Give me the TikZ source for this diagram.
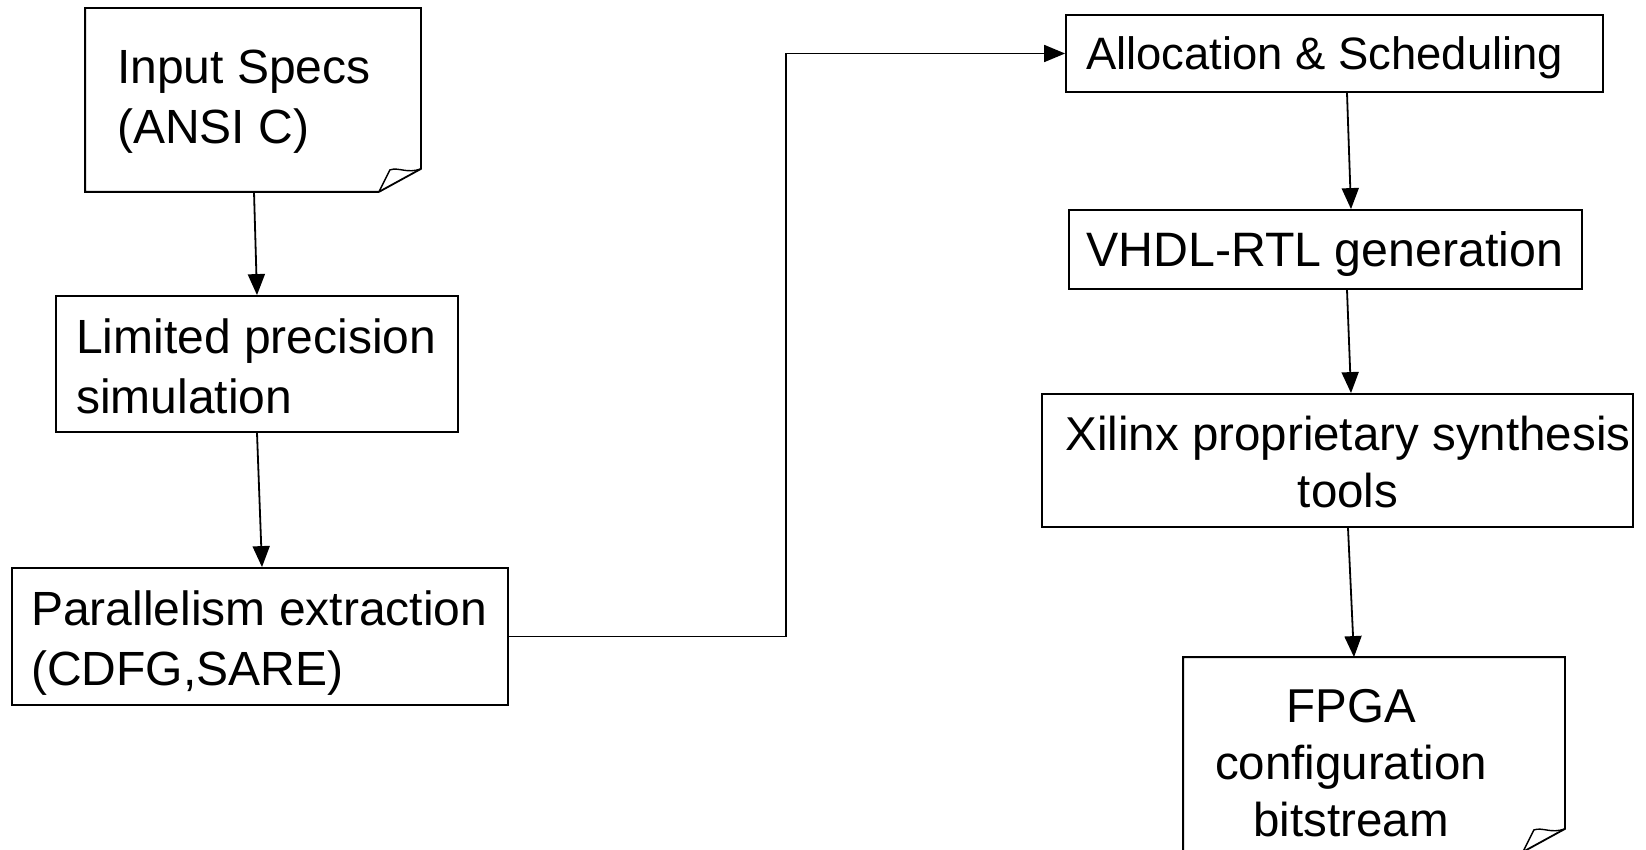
\documentclass[tikz,border=0pt]{standalone}
\usepackage{fontspec}
\setmainfont{Liberation Sans}
\usetikzlibrary{arrows.meta,calc}
\tikzset{
  box/.style={draw, line width=1.8pt, minimum width=#1, inner sep=0pt},
  plainbox/.style={line width=1.8pt, inner sep=0pt},
  txt/.style={inner sep=0pt, align=left, font=\fontsize{48}{60}\selectfont},
  ctxt/.style={inner sep=0pt, align=center, font=\fontsize{47.5}{57}\selectfont},
  arr/.style={line width=1.8pt, -{Triangle[length=21pt,width=17pt]}},
  foldline/.style={line width=1.8pt, line join=miter}
}
\begin{document}
\begin{tikzpicture}[x=1pt,y=-1pt]
\useasboundingbox (0,0) rectangle (1646,850);
% Input Specs (note shape)
\node[plainbox, minimum width=334pt, minimum height=182pt] (in) at (253,100) {};
\draw[foldline] ([xshift=-42pt]in.south east) -- (in.south west) -- (in.north west) -- (in.north east) -- ([yshift=23pt]in.south east) -- ([xshift=-42pt]in.south east);
\draw[line width=1.4pt] ([xshift=-42pt]in.south east) -- ([xshift=-31pt,yshift=22pt]in.south east)
  .. controls ([xshift=-22pt,yshift=25pt]in.south east) and ([xshift=-14pt,yshift=18pt]in.south east) .. ([yshift=23pt]in.south east);
\node[txt, anchor=west] (in-t) at (117,102) {Input Specs\\(ANSI C)};
% Limited precision
\node[box=402pt, minimum height=136pt] (lim) at (257,364) {};
\node[txt, anchor=west] (lim-t) at (76,366) {Limited precision\\simulation};
% Parallelism
\node[box=496pt, minimum height=137pt] (par) at (260,636.5) {};
\node[txt, anchor=west] (par-t) at (31,643) {Parallelism extraction\\(CDFG,SARE)};
% Allocation
\node[box=537pt, minimum height=77pt] (alloc) at (1334.5,53.5) {};
\node[txt, anchor=west, font=\fontsize{45.4}{60}\selectfont] (alloc-t) at (1086,58) {Allocation \& Scheduling};
% VHDL
\node[box=513pt, minimum height=79pt] (vhdl) at (1325.5,249.5) {};
\node[txt, anchor=west, font=\fontsize{48.3}{60}\selectfont] (vhdl-t) at (1086,254) {VHDL-RTL generation};
% Xilinx
\node[box=591pt, minimum height=133pt] (xil) at (1337.5,460.5) {};
\node[ctxt] (xil-t) at (1348,462) {Xilinx proprietary synthesis\\tools};
% FPGA (note shape, bottom cut off by page)
\node[plainbox, minimum width=380pt, minimum height=193pt] (fpga) at (1374,754.5) {};
\draw[foldline] ([xshift=-42pt]fpga.south east) -- (fpga.south west) -- (fpga.north west) -- (fpga.north east) -- ([yshift=23pt]fpga.south east) -- ([xshift=-42pt]fpga.south east);
\draw[line width=1.4pt] ([xshift=-42pt]fpga.south east) -- ([xshift=-31pt,yshift=22pt]fpga.south east)
  .. controls ([xshift=-22pt,yshift=25pt]fpga.south east) and ([xshift=-14pt,yshift=18pt]fpga.south east) .. ([yshift=23pt]fpga.south east);
\node[ctxt] (fpga-t) at (1351,763) {FPGA\\configuration\\bitstream};
% connectors
\coordinate (bend) at (786,0);
\draw[arr] ([xshift=1pt]in.south) -- (lim.north);
\draw[arr] (lim.south) -- ([xshift=2pt]par.north);
\draw[arr] (par.east) -- (par.east -| bend) |- (alloc.west);
\draw[arr] ([xshift=12.5pt]alloc.south) -- ([xshift=25.5pt]vhdl.north);
\draw[arr] ([xshift=21.5pt]vhdl.south) -- ([xshift=13.5pt]xil.north);
\draw[arr] ([xshift=10.5pt]xil.south) -- ([xshift=-20pt]fpga.north);
\end{tikzpicture}
\end{document}
